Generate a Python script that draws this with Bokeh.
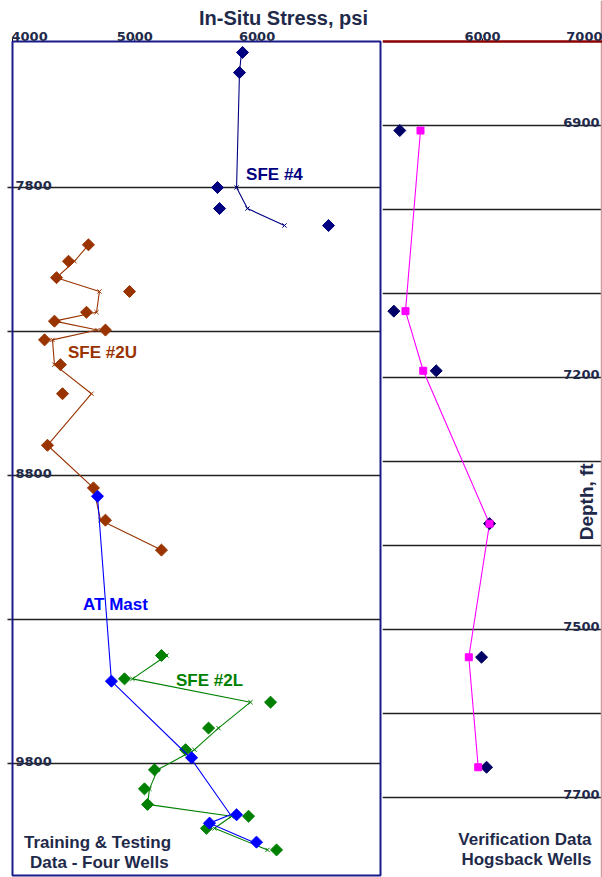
import numpy as np
from bokeh.plotting import figure
from bokeh.models import Range1d, FixedTicker, Grid, Label, Span, BoxAnnotation
from bokeh.layouts import row
from bokeh.embed import file_html
from bokeh.resources import INLINE

# ---------------- data ----------------
# Left panel: training & testing wells (depth ft, stress psi)
sfe4_depth = [7331, 7401, 7800, 7873, 7932]
sfe4_meas = [5881, 5856, 5676, 5693, 6584]
sfe4_pred = [5872, 5856, 5832, 5921, 6224]

sfe2u_depth = [7999, 8056, 8113, 8161, 8233, 8264, 8295, 8329, 8415, 8516, 8695, 8843, 8955, 9059]
sfe2u_meas = [4621, 4458, 4360, 4957, 4605, 4343, 4760, 4262, 4392, 4409, 4286, 4662, 4760, 5218]
sfe2u_pred = [4621, 4507, 4360, 4711, 4687, 4343, 4695, 4327, 4343, 4646, 4286, 4662, 4720, 5218]

atmast_depth = [8872, 9514, 9780, 9978, 10007, 10073]
atmast_meas = [4695, 4809, 5464, 5832, 5611, 5995]
atmast_pred = [4695, 4809, 5455, 5782, 5611, 5971]

sfe2l_depth = [9425, 9506, 9587, 9677, 9752, 9822, 9888, 9942, 9983, 10025, 10100]
sfe2l_meas = [5218, 4916, 6110, 5603, 5415, 5161, 5079, 5104, 5930, 5586, 6159]
sfe2l_pred = [5259, 4981, 5946, 5684, 5488, 5186, 5120, 5104, 5791, 5652, 6085]

# Right panel: verification (Hogsback wells)
ver_depth = [6906, 7121, 7192, 7374, 7533, 7664]
ver_meas = [5305, 5255, 5611, 6059, 5992, 6034]
ver_pred = [5479, 5353, 5502, 6059, 5885, 5964]

left_xticks = [4000, 5000, 6000]
right_xticks = [6000, 7000]
left_grid_depths = [7800, 8300, 8800, 9300, 9800]
left_depth_labels = [7800, 8800, 9800]
right_grid_depths = [6900, 7000, 7100, 7200, 7300, 7400, 7500, 7600, 7700]
right_depth_labels = [6900, 7200, 7500, 7700]

# axis extents (stress psi / depth ft)
L_XMIN, L_XMAX = 4000, 7009
L_DTOP, L_DBOT = 7293, 10189
R_XMIN, R_XMAX = 5160, 7000
R_DTOP, R_DBOT = 6800, 7795

# ---------------- style ----------------
TEXT = "#1f2a4a"
NAVY = "#000080"
BROWN = "#993300"
GREEN = "#008000"
BLUE = "#0000ff"
MAGENTA = "#ff00ff"
DNAVY = "#000066"
TICKFONT = "DejaVu Sans"
LABFONT = "Liberation Sans"
DSIZE = 8.5

# scales (px per unit) used only to place the decorations around the frames
LSX, LSY = 0.1223, 0.288
RSX, RSY = 0.119, 0.84


def lab(p, x, y, text, color=TEXT, size="17px", font=LABFONT, align="center",
        baseline="middle", angle=0, x_offset=0):
    p.add_layout(Label(x=x, y=y, text=text, text_color=color, text_font=font,
                       text_font_style="bold", text_font_size=size, text_align=align,
                       text_baseline=baseline, angle=angle, x_offset=x_offset))


def series(p, depth, meas, pred, color, xmarks=True):
    p.line(pred, depth, line_color=color, line_width=1.1)
    if xmarks:
        p.scatter(pred, depth, marker="x", size=6, line_color=color, line_width=1)
    p.scatter(meas, depth, marker="square", angle=np.pi / 4, size=DSIZE,
              fill_color=color, line_color=color)


# ---------------- left figure ----------------
left = figure(width=382, height=877,
              x_range=Range1d(L_XMIN - 12 / LSX, L_XMIN + 370 / LSX),
              y_range=Range1d(L_DTOP + 836 / LSY, L_DTOP - 41 / LSY),
              x_axis_location=None, y_axis_location=None,
              output_backend="svg", toolbar_location=None,
              min_border=0, min_border_left=0, min_border_right=0,
              min_border_top=0, min_border_bottom=0)
left.grid.visible = False
left.outline_line_color = None
left.background_fill_color = "white"
left.border_fill_color = "white"

# horizontal grid lines (extend a little left of the frame like tick marks)
left.segment(x0=[L_XMIN - 5 / LSX] * len(left_grid_depths), x1=[L_XMAX] * len(left_grid_depths),
             y0=left_grid_depths, y1=left_grid_depths, line_color="#222222", line_width=1.5)
# top tick marks
left.segment(x0=left_xticks, x1=left_xticks, y0=[L_DTOP] * len(left_xticks),
             y1=[L_DTOP - 3 / LSY] * len(left_xticks), line_color="#000000", line_width=1)

series(left, sfe4_depth, sfe4_meas, sfe4_pred, NAVY)
series(left, sfe2u_depth, sfe2u_meas, sfe2u_pred, BROWN)
series(left, sfe2l_depth, sfe2l_meas, sfe2l_pred, GREEN)
series(left, atmast_depth, atmast_meas, atmast_pred, BLUE, xmarks=False)

left.add_layout(BoxAnnotation(left=L_XMIN, right=L_XMAX, top=L_DTOP, bottom=L_DBOT,
                              fill_color=None, fill_alpha=0, line_color="#1a1a8a",
                              line_width=2, line_alpha=1))

# x tick labels
for i, t in enumerate(left_xticks):
    lab(left, t, L_DTOP - 5 / LSY, str(t), size="13px", font=TICKFONT,
        align="left" if i == 0 else "center", baseline="alphabetic",
        x_offset=-1 if i == 0 else 0)
# title
lab(left, 6216, L_DTOP - 24 / LSY, "In-Situ Stress, psi", size="20px")
# depth labels
for d in left_depth_labels:
    lab(left, L_XMIN, d - 2 / LSY, str(d), size="13px", font=TICKFONT, align="left",
        baseline="alphabetic", x_offset=3)
# series names
lab(left, 6142, 7755, "SFE #4", color=NAVY)
lab(left, 4736, 8373, "SFE #2U", color=BROWN)
lab(left, 4842, 9248, "AT Mast", color=BLUE)
lab(left, 5611, 9512, "SFE #2L", color=GREEN)
lab(left, 4695, 10074, "Training & Testing")
lab(left, 4710, 10144, "Data - Four Wells")

# ---------------- right figure ----------------
right = figure(width=220, height=877,
               x_range=Range1d(6000 - 100 / RSX, 6000 + 120 / RSX),
               y_range=Range1d(R_DTOP + 836 / RSY, R_DTOP - 41 / RSY),
               x_axis_location=None, y_axis_location=None,
               output_backend="svg", toolbar_location=None,
               min_border=0, min_border_left=0, min_border_right=0,
               min_border_top=0, min_border_bottom=0)
right.grid.visible = False
right.outline_line_color = None
right.add_layout(Grid(dimension=1, ticker=FixedTicker(ticks=right_grid_depths),
                      grid_line_color="#222222", grid_line_width=1.5))
right.add_layout(Span(location=R_XMAX, dimension="height", line_color="#d09a9a", line_width=1.5))
right.add_layout(Span(location=R_DTOP, dimension="width", line_color="#8b0000", line_width=2.5))
right.segment(x0=right_xticks, x1=right_xticks, y0=[R_DTOP] * len(right_xticks),
              y1=[R_DTOP - 3 / RSY] * len(right_xticks), line_color="#000000", line_width=1)

right.line(ver_pred, ver_depth, line_color=MAGENTA, line_width=1.1)
right.scatter(ver_meas, ver_depth, marker="square", angle=np.pi / 4, size=DSIZE,
              fill_color=DNAVY, line_color=DNAVY)
right.scatter(ver_pred, ver_depth, marker="square", size=7, fill_color=MAGENTA, line_color=MAGENTA)

for i, t in enumerate(right_xticks):
    last = i == len(right_xticks) - 1
    lab(right, t, R_DTOP - 5 / RSY, str(t), size="13px", font=TICKFONT,
        align="right" if last else "center", baseline="alphabetic",
        x_offset=1 if last else 0)
for d in right_depth_labels:
    lab(right, R_XMAX, d - 3 / RSY, str(d), size="13px", font=TICKFONT, align="right",
        baseline="alphabetic", x_offset=-2)
lab(right, 6874, 7348, "Depth, ft", size="19px", angle=np.pi / 2)
lab(right, R_XMAX, 7750, "Verification Data", align="right", x_offset=-10)
lab(right, R_XMAX, 7774, "Hogsback Wells", align="right", x_offset=-10)

layout = row(left, right, spacing=0)
open("out.html", "w").write(file_html(layout, INLINE))
